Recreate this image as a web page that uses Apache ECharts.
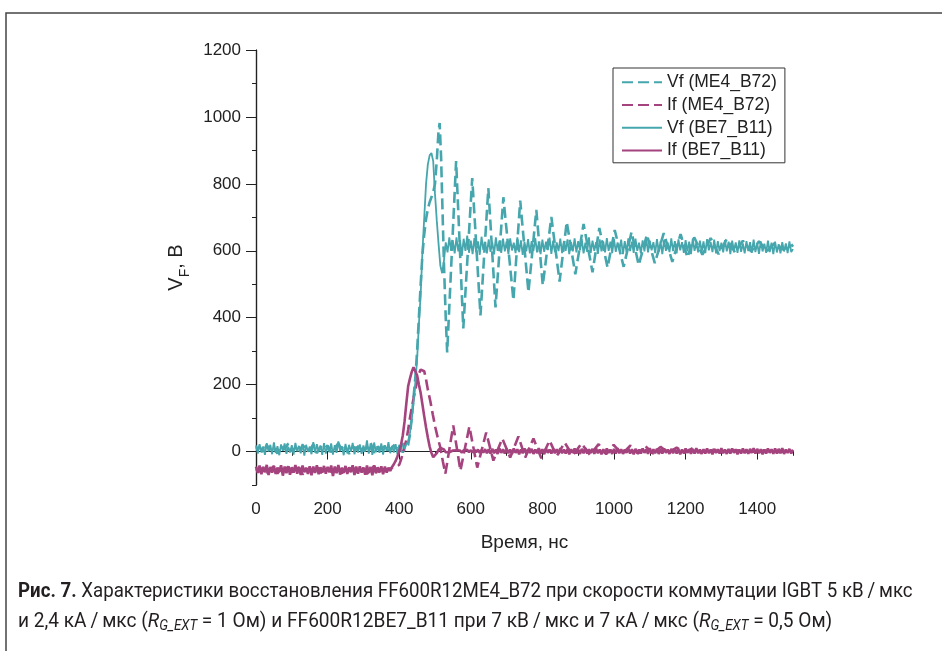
<!DOCTYPE html>
<html><head><meta charset="utf-8">
<script src="https://cdn.jsdelivr.net/npm/echarts@6/dist/echarts.min.js"></script>
<style>html,body{margin:0;padding:0;background:#fff}#c{width:942px;height:651px}</style>
</head><body><div id="c"></div>
<script>
// ---- data ----
const legendNames = ['Vf (ME4_B72)', 'If (ME4_B72)', 'Vf (BE7_B11)', 'If (BE7_B11)'];
const xTickLabels = [0, 200, 400, 600, 800, 1000, 1200, 1400];
const yTickLabels = [0, 200, 400, 600, 800, 1000, 1200];

// sample times (ns) for the BE7_B11 traces
const timeBE7 = [
0,5,10,15,20,25,30,35,40,45,
50,55,60,65,70,75,80,85,90,95,
100,105,110,115,120,125,130,135,140,145,
150,155,160,165,170,175,180,185,190,195,
200,205,210,215,220,225,230,235,240,245,
250,255,260,265,270,275,280,285,290,295,
300,305,310,315,320,325,330,335,340,345,
350,355,360,365,370,375,380,385,390,395,
400,405,410,415,420,425,430,435,440,445,
450,455,460,465,470,475,480,485,490,495,
500,505,510,515,520,525,530,535,540,545,
550,555,560,565,570,575,580,585,590,595,
600,605,610,615,620,625,630,635,640,645,
650,655,660,665,670,675,680,685,690,695,
700,705,710,715,720,725,730,735,740,745,
750,755,760,765,770,775,780,785,790,795,
800,805,810,815,820,825,830,835,840,845,
850,855,860,865,870,875,880,885,890,895,
900,905,910,915,920,925,930,935,940,945,
950,955,960,965,970,975,980,985,990,995,
1000,1005,1010,1015,1020,1025,1030,1035,1040,1045,
1050,1055,1060,1065,1070,1075,1080,1085,1090,1095,
1100,1105,1110,1115,1120,1125,1130,1135,1140,1145,
1150,1155,1160,1165,1170,1175,1180,1185,1190,1195,
1200,1205,1210,1215,1220,1225,1230,1235,1240,1245,
1250,1255,1260,1265,1270,1275,1280,1285,1290,1295,
1300,1305,1310,1315,1320,1325,1330,1335,1340,1345,
1350,1355,1360,1365,1370,1375,1380,1385,1390,1395,
1400,1405,1410,1415,1420,1425,1430,1435,1440,1445,
1450,1455,1460,1465,1470,1475,1480,1485,1490,1495,
1500];

const vfBE7 = [
18,-6,22,-2,15,-10,25,0,20,-8,
27,-4,16,-11,21,2,24,-7,14,-3,
19,-9,26,1,17,-5,23,-12,20,-1,
15,-8,28,-3,22,0,18,-10,25,-6,
17,-2,24,-9,19,-4,30,1,16,-11,
23,-5,20,-1,26,-8,15,-3,21,-7,
18,0,33,-6,22,-10,27,-2,16,-4,
24,-9,19,2,28,-5,17,-3,22,-8,
20,2,26,8,22,30,55,95,145,205,
275,380,470,600,700,800,858,885,892,868,
770,690,620,555,533,570,625,595,640,600,
628,592,640,598,632,585,636,600,645,594,
630,590,638,596,628,588,642,602,626,592,
634,597,625,589,640,600,630,594,636,598,
628,590,637,601,624,593,640,596,631,588,
626,598,635,592,629,600,638,595,624,590,
633,597,627,602,639,591,630,596,625,599,
636,593,628,600,634,590,626,598,637,595,
629,601,635,592,624,597,640,594,630,600,
626,591,634,598,628,595,638,600,627,593,
635,597,625,602,633,590,629,596,637,599,
627,594,636,600,624,592,631,598,638,595,
630,601,626,593,635,597,628,590,633,600,
625,596,637,599,629,592,634,601,626,594,
632,598,627,590,636,600,624,595,630,597,
628,593,635,601,626,596,633,592,629,599,
624,595,632,598,627,590,630,600,625,594,
631,597,622,592,629,599,626,594,633,596,
623,591,628,598,621,594,630,596,624,590,
627,595,620,592,626,598,622,593,628,596,
605];

const ifBE7 = [
-45,-64,-42,-68,-47,-62,-40,-70,-46,-63,
-43,-67,-48,-61,-41,-72,-45,-65,-44,-69,
-47,-63,-40,-66,-46,-70,-42,-62,-48,-67,
-44,-71,-45,-64,-41,-68,-47,-63,-43,-66,
-46,-62,-42,-73,-45,-65,-40,-69,-48,-64,
-43,-67,-47,-62,-41,-70,-45,-66,-44,-63,
-48,-69,-42,-64,-46,-71,-41,-65,-47,-62,
-44,-68,-45,-63,-48,-58,-46,-38,-28,-15,
0,20,48,90,145,195,218,238,252,248,
228,200,175,140,105,72,42,15,-4,-17,
-15,-5,5,11,12,6,-2,-4,-2,0,
3,-2,4,-1,3,-3,4,0,5,-2,
4,-3,5,-2,6,-4,5,-3,7,-5,
7,-6,8,-5,6,-7,9,-4,7,-6,
8,-5,6,-7,9,-4,7,-8,6,-5,
9,-6,7,-4,8,-7,6,-5,10,-6,
7,-8,9,-4,6,-6,8,-5,7,-7,
10,-5,6,-6,8,-8,7,-4,9,-6,
6,-7,8,-5,10,-6,7,-4,8,-7,
9,-5,6,-8,7,-6,9,-4,6,-7,
8,-6,10,-5,7,-7,6,-4,9,-6,
7,-8,8,-5,6,-6,9,-4,7,-7,
10,-6,7,-5,8,-7,6,-6,9,-4,
6,-7,8,-5,9,-6,7,-8,6,-5,
9,-4,7,-7,8,-6,10,-5,6,-7,
7,-6,9,-5,6,-8,8,-4,7,-6,
10,-5,6,-7,8,-6,9,-4,7,-8,
6,-6,9,-5,7,-7,8,-4,10,-6,
8,-5,7,-8,6,-6,9,-4,7,-7,
9,-6,8,-5,10,-7,6,-4,8,-6,
5];

const timeVfME4 = [
0,10,20,30,40,50,60,70,80,90,100,110,120,130,140,150,160,170,180,190,
200,210,220,230,240,250,260,270,280,290,300,310,320,330,340,350,360,370,380,390,
400,410,420,
425,430,435,440,445,450,455,460,465,470,475,480,485,490,495,500,505,510,513,517,521,525,530,534,
559,579,604,627,649,669,691,719,738,761,783,801,825,848,868,892,915,940,959,982,
1002,1027,1049,1069,1092,1114,1139,1163,1186,1205,1224,1247,1270,1292,1315,1338,1360,1383,1405,1428,
1450,1473,1495,1500];
const vfME4 = [
8,15,-4,20,3,11,-6,17,6,24,0,12,-3,19,9,2,22,-5,14,7,
18,-2,10,25,4,13,-7,16,8,21,1,11,27,-4,15,6,19,3,12,23,
9,-2,14,
20,50,100,160,220,300,400,500,590,650,695,725,745,760,775,800,870,960,982,880,720,560,400,296,
868,368,817,407,787,431,760,452,750,476,722,497,701,508,686,530,680,536,668,550,
662,552,656,557,648,563,653,567,650,580,640,588,638,590,635,595,630,598,628,600,
624,603,620,612];

const timeIfME4 = [
0,10,20,30,40,50,60,70,80,90,100,110,120,130,140,150,160,170,180,190,
200,210,220,230,240,250,260,270,280,290,300,310,320,330,340,350,360,370,380,390,
400,405,410,415,420,425,430,435,440,445,450,455,460,
464,470,475,480,487,494,501,508,515,522,
529,551,571,596,618,643,663,688,710,733,
752,775,797,820,840,862,885,909,933,957,
978,999,1022,1046,1067,1088,1109,1130,1152,1175,
1197,1220,1242,1270,1300,1340,1380,1420,1460,1500];
const ifME4 = [
-52,-60,-47,-63,-55,-44,-66,-50,-58,-45,-62,-53,-48,-68,-56,-50,-59,-43,-64,-54,
-49,-61,-57,-46,-65,-52,-58,-47,-60,-55,-50,-67,-53,-44,-59,-62,-51,-56,-48,-45,
-40,-25,-5,15,35,65,100,130,158,185,210,232,245,
250,240,215,185,150,110,72,40,12,-30,
-66,78,-57,75,-48,57,-27,39,-18,45,
-18,39,-20,33,-14,27,-12,24,-10,22,
-8,20,-8,18,-6,16,-6,14,-4,12,
-4,10,-3,6,-2,4,-1,3,-1,2];

// ---- chart ----
const TEAL = '#46a6ad', PINK = '#a4437e', INK = '#222';
function pairs(ts, vs) { return ts.map((t, i) => [t, vs[i]]); }

const chart = echarts.init(document.getElementById('c'), null, {renderer: 'canvas'});
const axisLineStyle = {color: INK, width: 1.2};
const font = 'Liberation Sans, Arial, sans-serif';
const capFont = 'Roboto, "Noto Sans", sans-serif';
const plain = v => String(v);
const TS = '\u2009';

const option = {
  animation: false,
  backgroundColor: '#fff',
  grid: {left: 256, right: 149, top: 50, bottom: 166, containLabel: false},
  legend: {
    data: legendNames,
    orient: 'vertical',
    left: 613, top: 68,
    itemWidth: 40, itemHeight: 14, itemGap: 4,
    padding: [5, 8, 3, 8],
    borderColor: '#333', borderWidth: 1,
    backgroundColor: '#fff',
    itemStyle: {opacity: 0},
    textStyle: {fontSize: 17.5, lineHeight: 18.7, color: INK, fontFamily: font}
  },
  xAxis: [
    {type: 'value', min: 0, max: 1500, interval: 100, position: 'bottom',
     axisLine: {show: true, lineStyle: axisLineStyle},
     axisTick: {show: true, length: 4, lineStyle: {color: INK}},
     axisLabel: {customValues: xTickLabels, formatter: plain, fontSize: 17, color: INK, margin: 16, fontFamily: font},
     splitLine: {show: false},
     name: 'Время, нс', nameLocation: 'middle', nameGap: 48,
     nameTextStyle: {fontSize: 19, color: INK, fontFamily: font}},
    {type: 'value', min: 0, max: 1500, position: 'bottom',
     axisLine: {show: false},
     axisTick: {show: true, length: 8, customValues: xTickLabels, lineStyle: {color: INK}},
     axisLabel: {show: false}, splitLine: {show: false}},
    {type: 'value', min: 0, max: 1500, interval: 100, position: 'top',
     axisLine: {show: true, lineStyle: axisLineStyle},
     axisTick: {show: true, inside: true, length: 4, lineStyle: {color: INK}},
     axisLabel: {show: false}, splitLine: {show: false}}
  ],
  yAxis: [
    {type: 'value', min: -100, max: 1200, interval: 100, position: 'left',
     axisLine: {show: true, lineStyle: axisLineStyle},
     axisTick: {show: true, length: 4, lineStyle: {color: INK}},
     axisLabel: {customValues: yTickLabels, formatter: plain, fontSize: 17, color: INK, margin: 15, fontFamily: font},
     splitLine: {show: false},
     name: '{v|V}{s|F}{v|, В}', nameLocation: 'middle', nameGap: 50, nameRotate: 90,
     nameTextStyle: {color: INK, fontFamily: font,
       rich: {v: {fontSize: 20, fontFamily: font, color: INK, lineHeight: 26, verticalAlign: 'bottom'},
              s: {fontSize: 14, fontFamily: font, color: INK, lineHeight: 26, verticalAlign: 'bottom', padding: [0, 0, -6, 0]}}}},
    {type: 'value', min: -100, max: 1200, position: 'left',
     axisLine: {show: false},
     axisTick: {show: true, length: 10, customValues: yTickLabels, lineStyle: {color: INK}},
     axisLabel: {show: false}, splitLine: {show: false}},
    {type: 'value', min: -100, max: 1200, interval: 100, position: 'right',
     axisLine: {show: true, lineStyle: axisLineStyle},
     axisTick: {show: true, inside: true, length: 4, lineStyle: {color: INK}},
     axisLabel: {show: false}, splitLine: {show: false}}
  ],
  series: [
    {name: legendNames[0], type: 'line', data: pairs(timeVfME4, vfME4), showSymbol: false, symbol: 'none',
     lineStyle: {color: TEAL, width: 2.6, type: [11, 5]}, itemStyle: {color: TEAL}, z: 2},
    {name: legendNames[1], type: 'line', data: pairs(timeIfME4, ifME4), showSymbol: false, symbol: 'none',
     lineStyle: {color: PINK, width: 2.6, type: [11, 5]}, itemStyle: {color: PINK}, z: 2},
    {name: legendNames[2], type: 'line', data: pairs(timeBE7, vfBE7), showSymbol: false, symbol: 'none',
     lineStyle: {color: TEAL, width: 1.8}, itemStyle: {color: TEAL}, z: 3},
    {name: legendNames[3], type: 'line', data: pairs(timeBE7, ifBE7), showSymbol: false, symbol: 'none',
     lineStyle: {color: PINK, width: 2.6}, itemStyle: {color: PINK}, z: 3}
  ],
  graphic: [
    {type: 'rect', shape: {x: 6, y: 13, width: 1000, height: 700},
     style: {fill: 'none', stroke: '#444', lineWidth: 1.5}, silent: true},
    {type: 'text', x: 18, y: 592, scaleX: 0.935, scaleY: 1,
     style: {
       text: '{b|Рис. 7.} Характеристики восстановления FF600R12ME4_B72 при скорости коммутации IGBT 5 кВ' + TS + '/' + TS + 'мкс',
       font: '20px ' + capFont, fill: '#231f20', verticalAlign: 'middle',
       rich: {b: {fontWeight: 'bold', fontSize: 20, fontFamily: capFont, fill: '#231f20'}}
     }},
    {type: 'text', x: 18, y: 622, scaleX: 0.955, scaleY: 1,
     style: {
       text: 'и 2,4 кА' + TS + '/' + TS + 'мкс ({i|R}{sub|G_EXT} = 1 Ом) и FF600R12BE7_B11 при 7 кВ' + TS + '/' + TS + 'мкс и 7 кА' + TS + '/' + TS + 'мкс ({i|R}{sub|G_EXT} = 0,5 Ом)',
       font: '20px ' + capFont, fill: '#231f20', verticalAlign: 'middle',
       rich: {
         i: {fontStyle: 'italic', fontSize: 20, fontFamily: capFont, fill: '#231f20'},
         sub: {fontStyle: 'italic', fontSize: 14, fontFamily: capFont, fill: '#231f20', padding: [9, 0, 0, 0]}
       }
     }}
  ]
};
chart.setOption(option);
</script></body></html>
